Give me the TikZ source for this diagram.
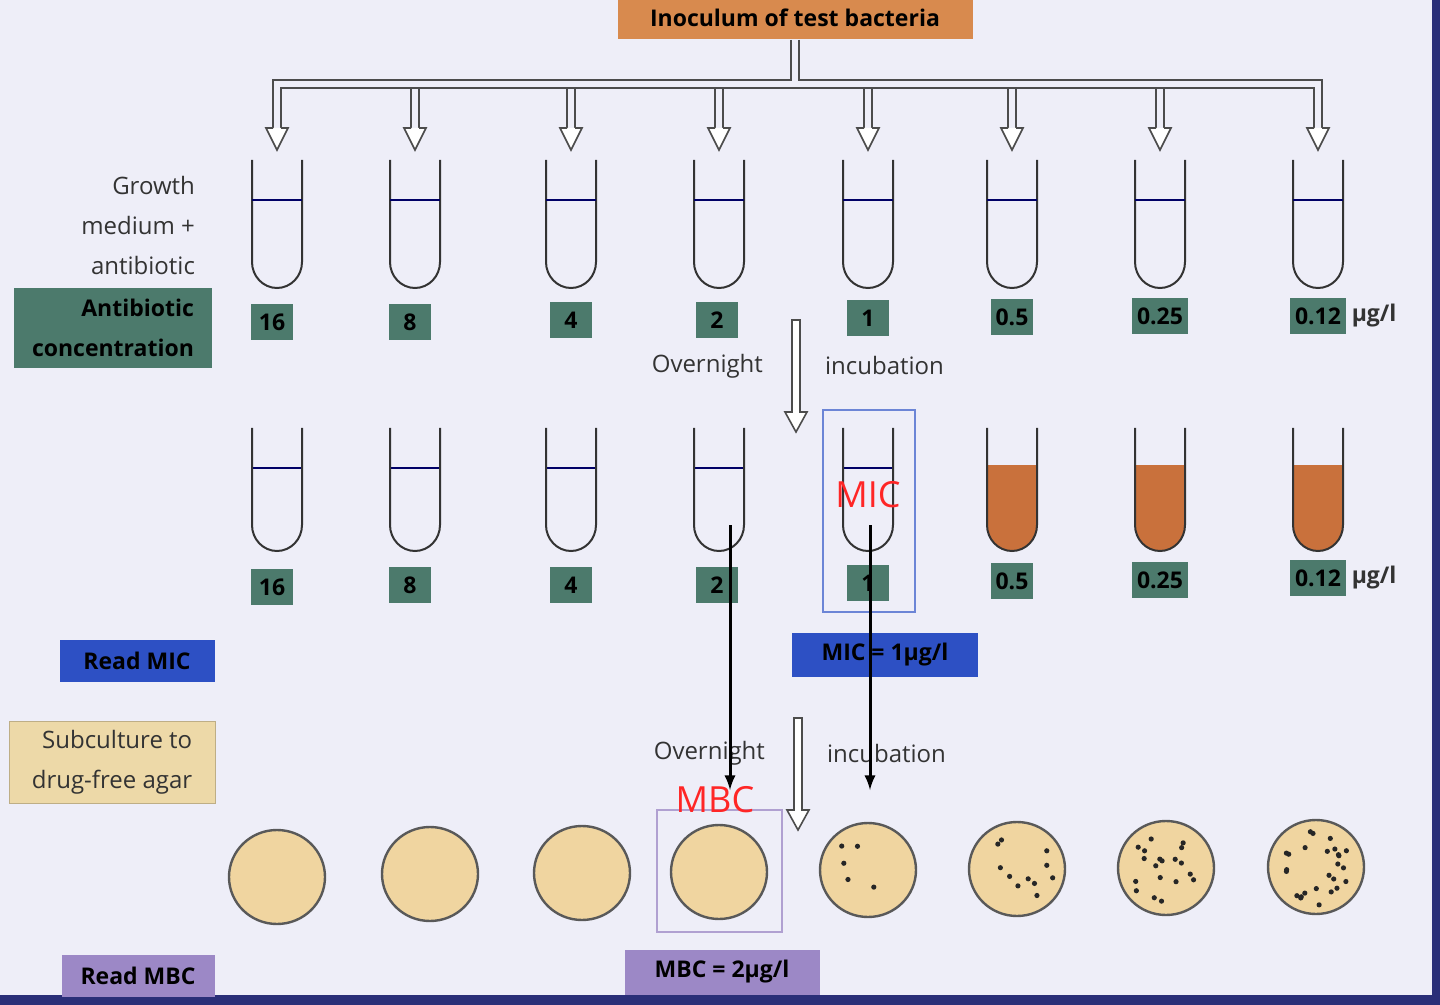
\documentclass[tikz,border=0pt]{standalone}
\usepackage{fontspec}
\setmainfont{Open Sans}
\usetikzlibrary{calc}
\definecolor{bg}{HTML}{EEEEF8}
\definecolor{orng}{HTML}{D88A4E}
\definecolor{teal}{HTML}{4C7A6C}
\definecolor{rblue}{HTML}{2D50C4}
\definecolor{beige}{HTML}{EDD9A8}
\definecolor{purp}{HTML}{9C88C6}
\definecolor{agar}{HTML}{F0D5A0}
\definecolor{growth}{HTML}{C9713C}
\definecolor{frame}{HTML}{2A2F78}
\begin{document}
\begin{tikzpicture}[x=0.5pt,y=-0.5pt,
  lbl/.style={font=\fontsize{11.5}{20}\selectfont\bfseries, inner sep=2.5pt},
  conc/.style={lbl, fill=teal, minimum height=36*0.5pt, minimum width=42*0.5pt},
  txt/.style={font=\fontsize{12}{20}\selectfont, text=black!80},
  tube/.style={draw=black!80, line width=1pt},
  hollow/.style={draw=black!70, fill=white, line width=0.8pt},
  plate/.style={draw=black!65, fill=agar, line width=1.2pt},
  blk/.style={-latex, line width=1.5pt}]
\useasboundingbox (0,0) rectangle (1440,1005);
\fill[bg] (0,0) rectangle (1440,1005);
\fill[frame] (1432,0) rectangle (1440,1005);
\fill[frame] (0,995) rectangle (1440,1005);

% top box
\node[lbl, fill=orng, minimum width=355*0.5pt, minimum height=42*0.5pt] (ino) at (795,18) {Inoculum of test bacteria};

% distribution (hollow double lines)
\def\xs{277,415,571,719,868,1012,1160,1318}
\draw[black!70, line width=0.8pt] (791,40) -- (791,80) -- (273,80) -- (273,130);
\draw[black!70, line width=0.8pt] (799,40) -- (799,80) -- (1322,80) -- (1322,130);
\draw[black!70, line width=0.8pt] (281,130) -- (281,88) -- (1314,88) -- (1314,130);
\foreach \x in {415,571,719,868,1012,1160}{
  \fill[bg] (\x-3,89) rectangle (\x+3,131);
  \draw[black!70, line width=0.8pt] (\x-4,88) -- (\x-4,130) (\x+4,88) -- (\x+4,130);
}
\foreach \x in \xs{
  \draw[hollow] (\x-4,128) -- (\x-11,128) -- (\x,150) -- (\x+11,128) -- (\x+4,128);
}

% row 1 tubes
\foreach \x [count=\i] in \xs{
  \draw[tube] (\x-25,160) -- (\x-25,262) arc[start angle=180,end angle=360,x radius=25,y radius=-26] -- (\x+25,160);
  \draw[black!60!blue, line width=0.8pt] (\x-25,200) -- (\x+25,200);
}
% row 1 labels
\node[conc] (a1) at (272,322) {16};
\node[conc] (a2) at (410,322) {8};
\node[conc] (a3) at (571,320) {4};
\node[conc] (a4) at (717,320) {2};
\node[conc] (a5) at (868,318) {1};
\node[conc] (a6) at (1012,317) {0.5};
\node[conc] (a7) at (1160,316) {0.25};
\node[conc] (a8) at (1318,316) {0.12};
\node[lbl, anchor=west, text=black!80] at (a8.east) {µg/l};

\node[txt, align=right, anchor=east] (gm) at (202,226) {Growth\\medium +\\antibiotic};
\node[lbl, fill=teal, align=right, minimum width=198*0.5pt, minimum height=80*0.5pt] (ac) at (113,328) {Antibiotic\\concentration};

% overnight incubation 1
\draw[hollow] (792,320) -- (800,320) -- (800,412) -- (807,412) -- (796,432) -- (785,412) -- (792,412) -- cycle;
\node[txt, anchor=east] at (770,366) {Overnight};
\node[txt, anchor=west] at (818,366) {incubation};

% row 2 tubes
\foreach \x [count=\i] in \xs{
  \ifnum\i>5
    \fill[growth] (\x-25,465) -- (\x-25,525) arc[start angle=180,end angle=360,x radius=25,y radius=-26] -- (\x+25,465) -- cycle;
  \else
    \draw[black!60!blue, line width=0.8pt] (\x-25,468) -- (\x+25,468);
  \fi
  \draw[tube] (\x-25,428) -- (\x-25,525) arc[start angle=180,end angle=360,x radius=25,y radius=-26] -- (\x+25,428);
}
\node[conc] (b1) at (272,587) {16};
\node[conc] (b2) at (410,585) {8};
\node[conc] (b3) at (571,585) {4};
\node[conc] (b4) at (717,585) {2};
\node[conc] (b5) at (868,583) {1};
\node[conc] (b6) at (1012,581) {0.5};
\node[conc] (b7) at (1160,580) {0.25};
\node[conc] (b8) at (1318,578) {0.12};
\node[lbl, anchor=west, text=black!80] at (b8.east) {µg/l};

\draw[rblue!70, line width=1pt] (823,410) rectangle (915,612);
\node[text=red!85, font=\fontsize{18}{20}\selectfont] (mic) at (868,495) {MIC};

\node[lbl, fill=rblue, minimum width=155*0.5pt, minimum height=42*0.5pt] (rm) at (137,661) {Read MIC};
\node[lbl, fill=rblue, minimum width=186*0.5pt, minimum height=44*0.5pt] (mv) at (885,655) {MIC = 1µg/l};

\node[txt, fill=beige, draw=beige!80!black, align=right, minimum width=206*0.5pt, minimum height=82*0.5pt, inner sep=3pt] (sub) at (112,762) {Subculture to\\drug-free agar};

% overnight incubation 2
\draw[hollow] (794,718) -- (802,718) -- (802,810) -- (809,810) -- (798,830) -- (787,810) -- (794,810) -- cycle;
\node[txt, anchor=east] at (772,753) {Overnight};
\node[txt, anchor=west] at (820,753) {incubation};

% plates
\foreach \x/\y/\n [count=\i] in {277/877/0,430/874/0,582/873/0,719/872/0,868/870/5,1017/869/11,1166/868/19,1316/867/26}{
  \draw[plate] (\x,\y) ellipse[x radius=48, y radius=47];
  \ifnum\n>0
    \pgfmathsetseed{\i7}
    \foreach \k in {1,...,\n}{
      \pgfmathsetmacro{\ang}{rnd*360}
      \pgfmathsetmacro{\rr}{38*sqrt(rnd)}
      \fill[black!85] ($(\x,\y)+(\ang:\rr)$) circle[radius=2.6];
    }
  \fi
}
\draw[purp!80, line width=1pt] (657,810) rectangle (782,932);
\node[text=red!85, font=\fontsize{18}{20}\selectfont] (mbc) at (715,800) {MBC};

\node[lbl, fill=purp, minimum width=153*0.5pt, minimum height=42*0.5pt] (rb) at (138,976) {Read MBC};
\node[lbl, fill=purp, minimum width=195*0.5pt, minimum height=45*0.5pt] (bv) at (722,972) {MBC = 2µg/l};

% black arrows
\coordinate (s1) at (730,525); \coordinate (e1) at (730,790);
\coordinate (s2) at (870,525); \coordinate (e2) at (870,790);
\draw[blk] (s1) -- (e1);
\draw[blk] (s2) -- (e2);
\end{tikzpicture}
\end{document}
